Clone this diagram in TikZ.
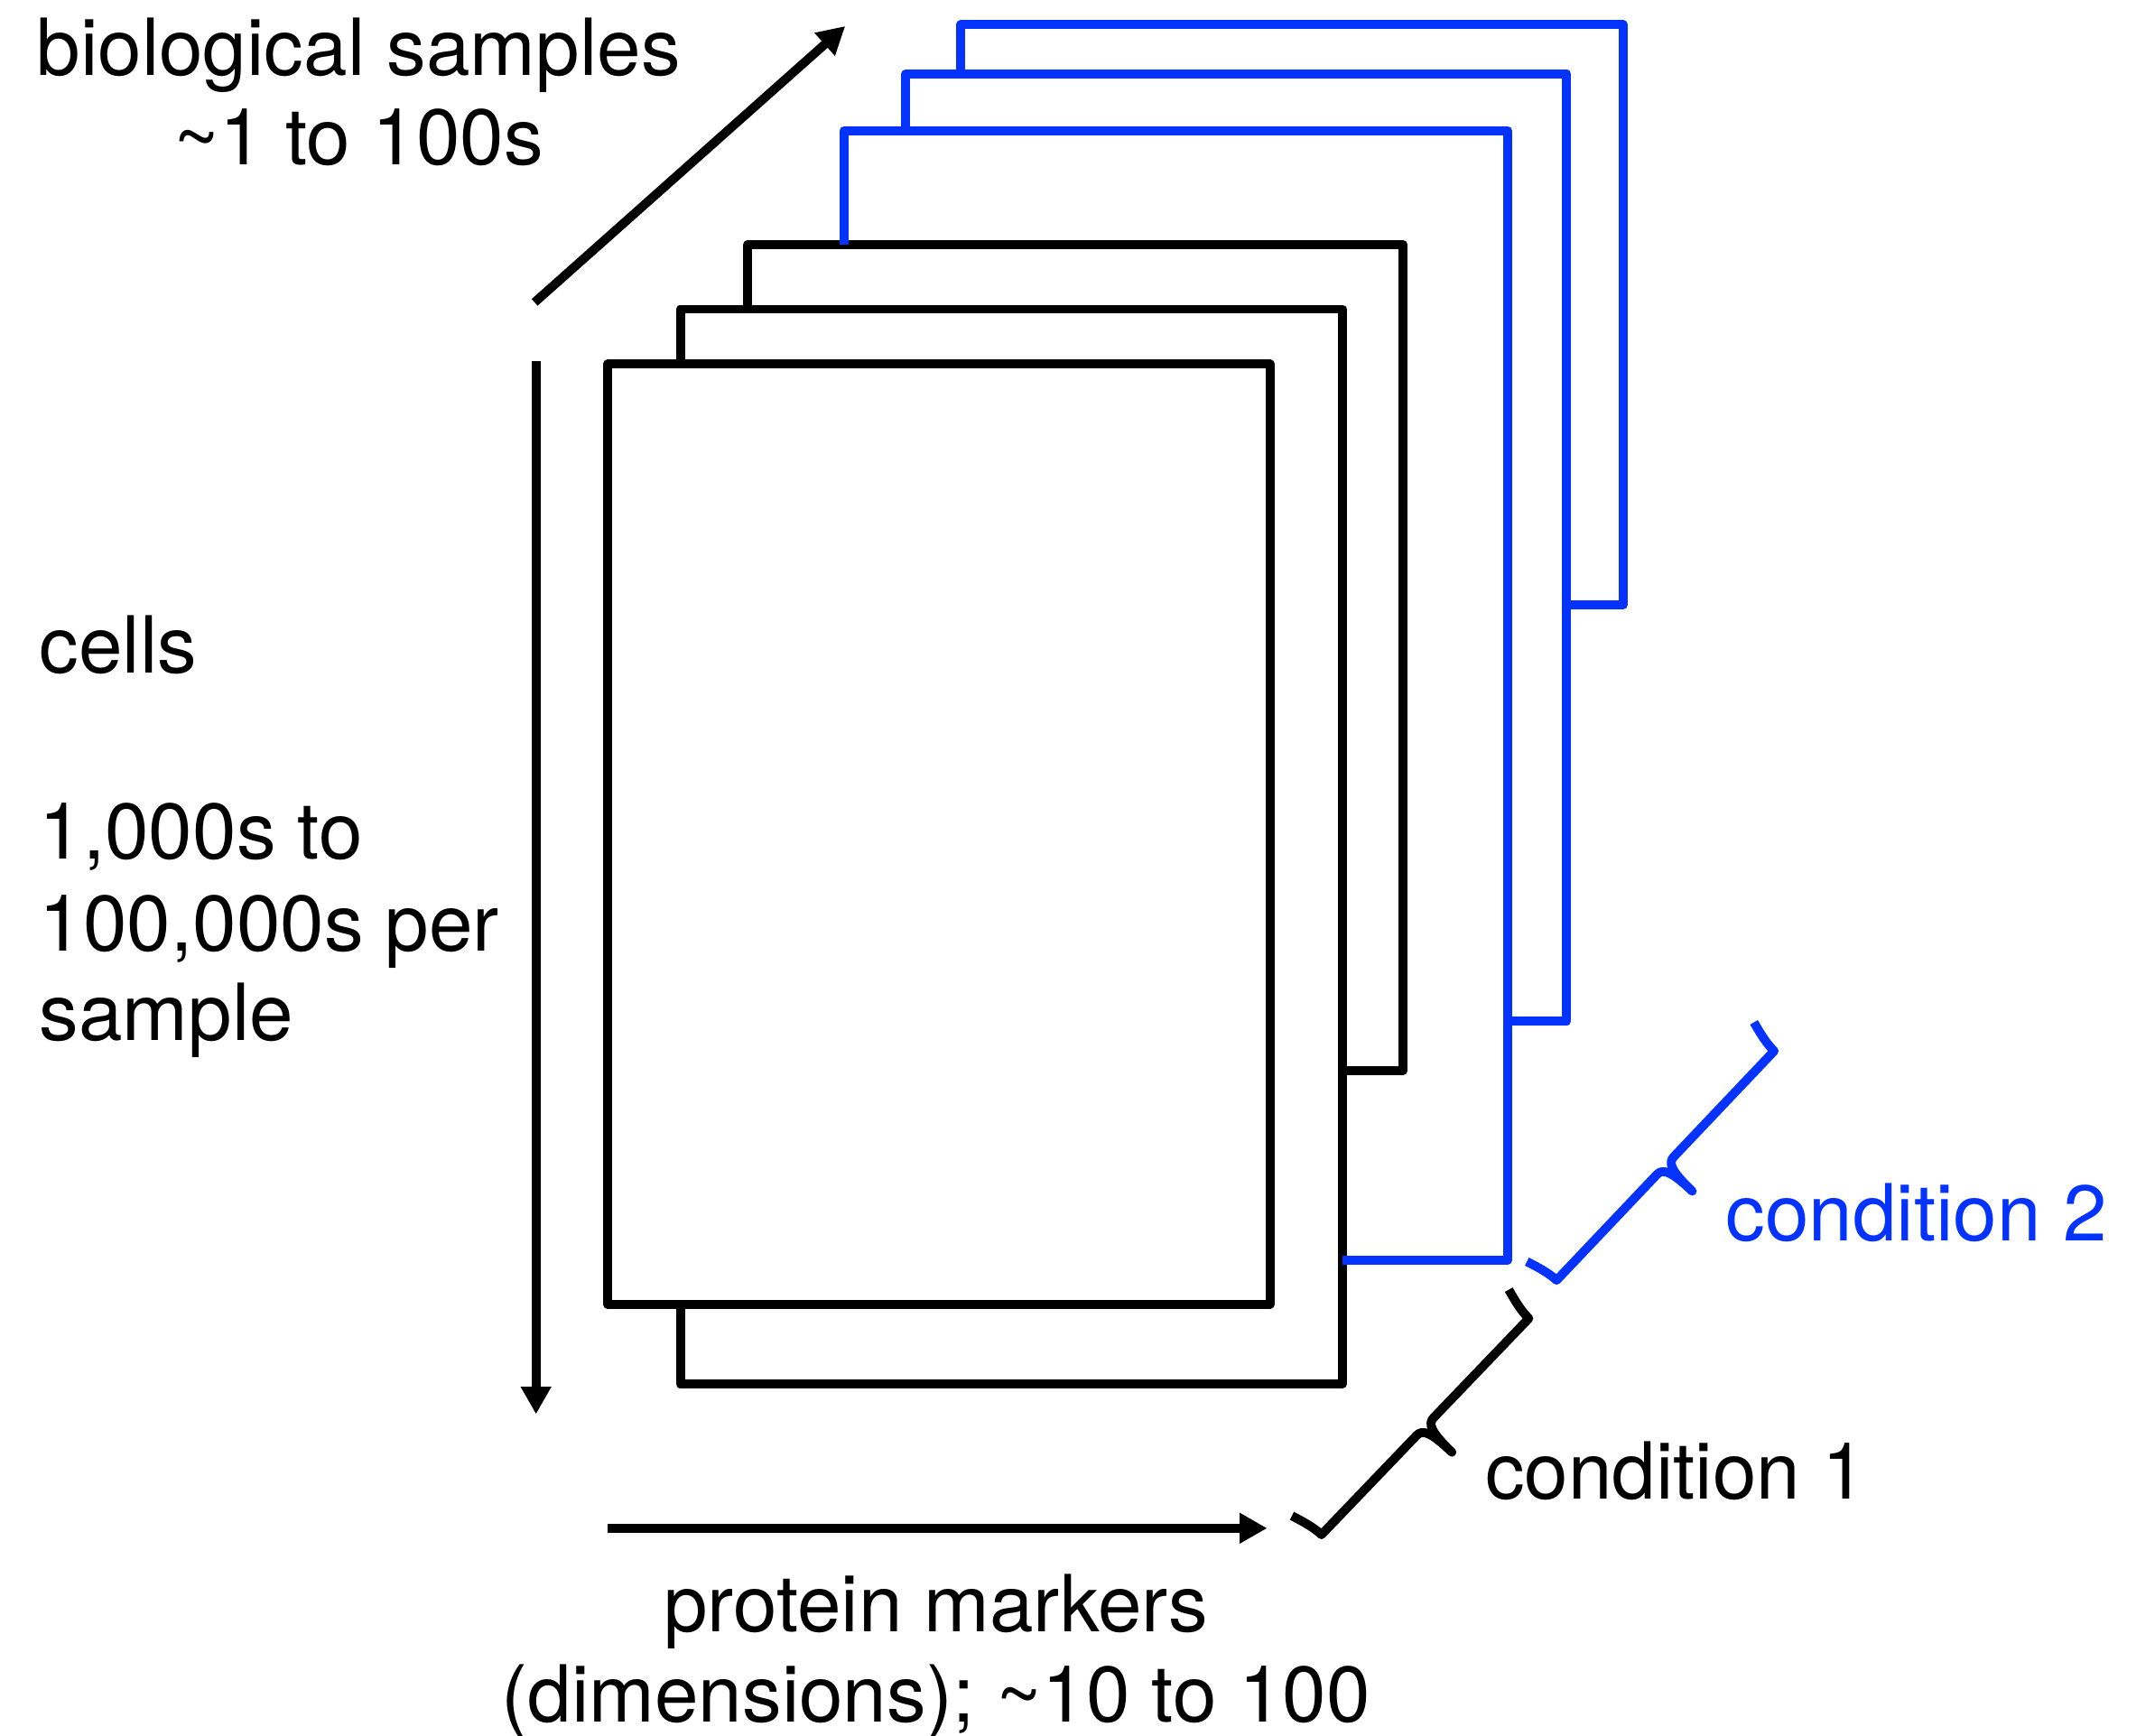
\documentclass[tikz,border=0pt]{standalone}
\usepackage{fontspec}
\setmainfont{TeX Gyre Heros}
\usetikzlibrary{arrows.meta}
\definecolor{kblue}{RGB}{4,51,255}
\begin{document}
\begin{tikzpicture}[x=0.01cm,y=-0.01cm,
  frame/.style={line width=1.85pt,line join=round},
  bframe/.style={frame,draw=kblue},
  axis/.style={line width=1.85pt,-{Triangle[length=0.2cm,width=0.21cm]}},
  lab/.style={inner sep=0pt,font=\fontsize{16.3}{19}\selectfont},
  brc/.style={line width=1.85pt,line join=round}]
\useasboundingbox (0,0) rectangle (1568,1263);

% stacked sample sheets
\draw[frame] (442,265) rectangle (924,949);
\draw[frame] (495,265) -- (495,225) -- (977,225) -- (977,1007) -- (495,1007) -- (495,949);
\draw[frame] (544,225) -- (544,178) -- (1021,178) -- (1021,779) -- (977,779);
\draw[bframe] (614,178) -- (614,95) -- (1097,95) -- (1097,917) -- (977,917);
\draw[bframe] (659,95) -- (659,54) -- (1140,54) -- (1140,743) -- (1097,743);
\draw[bframe] (699,54) -- (699,18) -- (1181,18) -- (1181,440) -- (1140,440);

% axes
\coordinate (dA) at (389,220);
\coordinate (dB) at (615,19);
\coordinate (vA) at (390,263);
\coordinate (vB) at (390,1029);
\coordinate (hA) at (442,1112);
\coordinate (hB) at (922,1112);
\draw[axis] (dA) -- (dB);
\draw[axis] (vA) -- (vB);
\draw[axis] (hA) -- (hB);

% braces
\begin{scope}[shift={(940,1103)},rotate=46.2]
\draw[brc] (0,0) .. controls (3,10) and (5,18) .. (5,25) -- (105,25)
  .. controls (111,25) and (114,30) .. (114,52)
  .. controls (114,30) and (117,25) .. (123,25) -- (223,25)
  .. controls (223,18) and (225,10) .. (228,0);
\end{scope}
\begin{scope}[shift={(1111,918)},rotate=46.5]
\draw[brc,draw=kblue] (0,0) .. controls (3,10) and (5,18) .. (5,25) -- (111,25)
  .. controls (117,25) and (120,30) .. (120,52)
  .. controls (120,30) and (123,25) .. (129,25) -- (235,25)
  .. controls (235,18) and (237,10) .. (240,0);
\end{scope}

% labels
\node[lab,anchor=base] (bs1) at (261,55) {biological samples};
\node[lab,anchor=base] (bs2) at (261,120) {\textasciitilde 1 to 100s};
\node[lab,anchor=base west] (cells) at (28,490) {cells};
\node[lab,anchor=base west] (n1) at (28,625) {1,000s to};
\node[lab,anchor=base west] (n2) at (28,692) {100,000s per};
\node[lab,anchor=base west] (n3) at (28,757) {sample};
\node[lab,anchor=base] (pm1) at (681,1187) {protein markers};
\node[lab,anchor=base] (pm2) at (681,1253) {(dimensions); \textasciitilde 10 to 100};
\node[lab,anchor=base west,text=kblue] (c2) at (1255,903) {condition 2};
\node[lab,anchor=base west] (c1) at (1080,1091) {condition 1};
\end{tikzpicture}
\end{document}
